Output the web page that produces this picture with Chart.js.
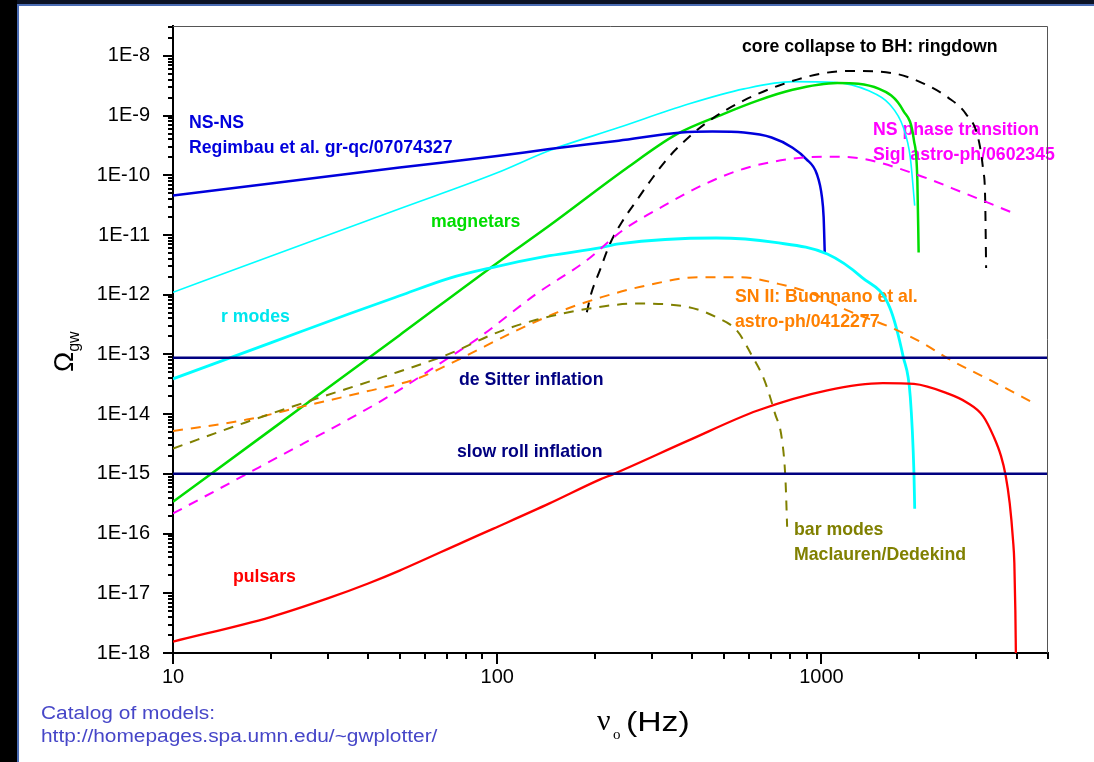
<!DOCTYPE html>
<html>
<head>
<meta charset="utf-8">
<script src="https://cdn.jsdelivr.net/npm/chart.js@4.4.1/dist/chart.umd.min.js"></script>
<style>
html,body{margin:0;padding:0;background:#fff;width:1094px;height:762px;overflow:hidden;}
#wrap{position:relative;width:1094px;height:762px;background:#fff;}
#c{position:absolute;left:0;top:0;}
.lstrip{position:absolute;left:0;top:0;width:17px;height:762px;background:#000;}
.lline{position:absolute;left:17px;top:4px;width:2px;height:758px;background:#4a6cb4;}
.tstrip{position:absolute;left:0;top:0;width:1094px;height:4px;background:#0b1224;}
.tline{position:absolute;left:17px;top:4px;width:1077px;height:2px;background:#4a6cb4;}
</style>
</head>
<body>
<div id="wrap">
<canvas id="c" width="1094" height="762"></canvas>
<div class="tstrip"></div><div class="lstrip"></div><div class="lline"></div><div class="tline"></div>
</div>
<script>
// ---- axis ticks ----
const xTickLabels = [10, 100, 1000];
const xTickValues = [10,20,30,40,50,60,70,80,90,100,200,300,400,500,600,700,800,900,1000,2000,3000,4000,5000];
const yDecades = [-18,-17,-16,-15,-14,-13,-12,-11,-10,-9,-8];
const xMin = 10, xMax = 5000, yMin = 1e-18, yMax = 3.162e-8;

// ---- series (frequency in Hz, Omega_gw) ----
const nsnsFreq  = [10, 20, 50, 100, 145, 237, 370, 461, 577, 702, 815, 898, 968, 1004, 1016, 1024];
const nsnsOmega = [4.6e-11, 7.3e-11, 1.35e-10, 2.1e-10, 2.75e-10, 3.8e-10, 5.2e-10, 5.4e-10, 5.2e-10, 4.3e-10, 2.9e-10, 1.87e-10, 1.05e-10, 4.3e-11, 2e-11, 5.1e-12];

const cyanUpperFreq  = [10, 20, 50, 100, 145, 237, 389, 577, 815, 1094, 1400, 1623, 1790, 1880, 1940];
const cyanUpperOmega = [1.1e-12, 4.4e-12, 2.75e-11, 1.1e-10, 2.6e-10, 6.3e-10, 1.56e-9, 2.8e-9, 3.7e-9, 3.6e-9, 2.6e-9, 1.55e-9, 6.3e-10, 2e-10, 3.1e-11];

const magnetarFreq  = [10, 20, 50, 100, 145, 250, 356, 498, 636, 815, 1120, 1507, 1790, 1930, 1977, 1995];
const magnetarOmega = [3.4e-16, 5.4e-15, 2.1e-13, 3.4e-12, 1.44e-11, 1.3e-10, 4.8e-10, 1.06e-9, 1.78e-9, 2.7e-9, 3.5e-9, 2.8e-9, 1.2e-9, 3.8e-10, 8.1e-11, 5.1e-12];

const ringdownFreq  = [189, 195, 207, 223, 244, 269, 297, 335, 389, 461, 575, 737, 990, 1237, 1702, 2075, 2460, 2790, 3042, 3156, 3199, 3222];
const ringdownOmega = [5.1e-13, 1.05e-12, 2.5e-12, 7.2e-12, 1.74e-11, 3.76e-11, 8.1e-11, 1.9e-10, 4.3e-10, 8.9e-10, 1.78e-9, 3.16e-9, 5e-9, 5.6e-9, 5e-9, 3.4e-9, 2e-9, 1.07e-9, 4.3e-10, 1.2e-10, 4.3e-11, 2.8e-12];

const phaseFreq  = [10, 13.6, 18.5, 25.2, 35.1, 47.8, 66.5, 88.3, 132, 188, 243, 327, 439, 577, 815, 1043, 1333, 1929, 2791, 3934];
const phaseOmega = [2.17e-16, 5.3e-16, 1.3e-15, 3.2e-15, 8.4e-15, 2.2e-14, 7e-14, 1.95e-13, 1.03e-12, 3.7e-12, 1.18e-11, 3.1e-11, 7.2e-11, 1.29e-10, 1.9e-10, 2.05e-10, 1.9e-10, 1.07e-10, 4.9e-11, 2.3e-11];

const snFreq  = [10, 16.9, 25.2, 39.5, 56.4, 74.9, 114.5, 154, 210, 289, 418, 563, 737, 944, 1207, 1620, 2075, 2460, 3320, 4560];
const snOmega = [5.2e-15, 8.1e-15, 1.35e-14, 2.4e-14, 3.9e-14, 7.9e-14, 2.5e-13, 5.1e-13, 9.1e-13, 1.43e-12, 1.96e-12, 1.96e-12, 1.52e-12, 1.03e-12, 5.4e-13, 2.9e-13, 1.5e-13, 8.5e-14, 3.7e-14, 1.5e-14];

const barFreq  = [10, 16.9, 27.7, 44.5, 71.4, 99.4, 132, 190, 269, 389, 474, 549, 606, 667, 719, 756, 775, 784];
const barOmega = [2.65e-15, 7.4e-15, 1.82e-14, 4.2e-14, 1.03e-13, 2.3e-13, 3.8e-13, 5.8e-13, 7.1e-13, 6.2e-13, 4.2e-13, 2.5e-13, 1.03e-13, 3.7e-14, 1.03e-14, 3.7e-15, 7.8e-16, 1.3e-16];

const rmodeFreq  = [10, 20, 35, 50, 71.4, 94.9, 145, 207, 237, 474, 719, 1043, 1333, 1623, 1789, 1880, 1930, 1940];
const rmodeOmega = [3.9e-14, 1.56e-13, 4.8e-13, 9.6e-13, 1.9e-12, 2.8e-12, 4.5e-12, 6.1e-12, 7.1e-12, 8.9e-12, 7.5e-12, 4.8e-12, 1.95e-12, 6.2e-13, 9e-14, 1.95e-14, 1e-15, 2.6e-16];

const pulsarFreq  = [10, 20, 30, 40, 50, 78.5, 97, 145, 207, 229, 388, 636, 1043, 1547, 1929, 2460, 2800, 3156, 3400, 3580, 3700, 3810, 3900, 3937, 3965, 3980];
const pulsarOmega = [1.55e-18, 4e-18, 8.2e-18, 1.46e-17, 2.4e-17, 7.2e-17, 1.2e-16, 3.2e-16, 8e-16, 1e-15, 3.6e-15, 1.15e-14, 2.5e-14, 3.3e-14, 3.2e-14, 2.2e-14, 1.58e-14, 9.2e-15, 4.2e-15, 2.0e-15, 9.5e-16, 3.2e-16, 7.8e-17, 3.2e-17, 5.2e-18, 1e-18];

const inflationFreq = [10, 5000];
const deSitterOmega = [8.8e-14, 8.8e-14];
const slowRollOmega = [1e-15, 1e-15];

// ---- text labels ----
const curveLabels = [
  {text:'core collapse to BH: ringdown', x:742, y:47, color:'#000000'},
  {text:'NS-NS', x:189, y:123, color:'#0000dc'},
  {text:'Regimbau et al. gr-qc/07074327', x:189, y:148, color:'#0000dc'},
  {text:'NS phase transition', x:873, y:130, color:'#ff00ff'},
  {text:'Sigl astro-ph/0602345', x:873, y:155, color:'#ff00ff'},
  {text:'magnetars', x:431, y:222, color:'#00dd00'},
  {text:'r modes', x:221, y:317, color:'#00e6ee'},
  {text:'SN II: Buonnano et al.', x:735, y:297, color:'#ff8000'},
  {text:'astro-ph/0412277', x:735, y:322, color:'#ff8000'},
  {text:'de Sitter inflation', x:459, y:380, color:'#000080'},
  {text:'slow roll inflation', x:457, y:452, color:'#000080'},
  {text:'bar modes', x:794, y:530, color:'#808000'},
  {text:'Maclauren/Dedekind', x:794, y:555, color:'#808000'},
  {text:'pulsars', x:233, y:577, color:'#ff0000'}
];

function pts(fs, os){ return fs.map((f,i)=>({x:f, y:os[i]})); }
function isDecade(v){ const l=Math.log10(v); return Math.abs(l-Math.round(l))<1e-6; }

function ds(fs, os, color, width, dash){
  return {data: pts(fs, os), borderColor: color, borderWidth: width, borderDash: dash || [],
          pointRadius: 0, fill: false, cubicInterpolationMode: 'monotone', borderCapStyle:'butt'};
}

const yTickValues = [];
yDecades.forEach(e => { for (let m=1; m<=9; m++){ const v = m*Math.pow(10,e); if (v <= yMax*1.0001) yTickValues.push(v); } });

const FONT = '"Liberation Sans", Arial, Helvetica, sans-serif';

const decoPlugin = {
  id: 'deco',
  beforeDatasetsDraw(chart){
    const ctx = chart.ctx;
    ctx.save();
    ctx.textBaseline = 'middle'; ctx.textAlign = 'left';
    ctx.font = 'bold 17.7px ' + FONT;
    curveLabels.forEach(l => { ctx.fillStyle = l.color; ctx.fillText(l.text, l.x, l.y); });
    ctx.restore();
  },
  afterDraw(chart){
    const ctx = chart.ctx, a = chart.chartArea;
    const xs = chart.scales.x, ys = chart.scales.y;
    ctx.save();
    // frame top/right
    ctx.strokeStyle = '#555'; ctx.lineWidth = 1;
    ctx.beginPath(); ctx.moveTo(a.left, a.top+0.5); ctx.lineTo(a.right-0.5, a.top+0.5); ctx.lineTo(a.right-0.5, a.bottom); ctx.stroke();
    // tick marks
    ctx.strokeStyle = '#000'; ctx.lineWidth = 2;
    xs.ticks.forEach(t => {
      const px = Math.round(xs.getPixelForValue(t.value));
      const len = isDecade(t.value) ? 11 : 6;
      ctx.beginPath(); ctx.moveTo(px, a.bottom); ctx.lineTo(px, a.bottom+len); ctx.stroke();
    });
    ys.ticks.forEach(t => {
      const py = Math.round(ys.getPixelForValue(t.value));
      const len = isDecade(t.value) ? 10 : 5;
      ctx.beginPath(); ctx.moveTo(a.left, py); ctx.lineTo(a.left-len, py); ctx.stroke();
    });
    // y title
    ctx.fillStyle = '#000';
    ctx.translate(73, 372); ctx.rotate(-Math.PI/2);
    ctx.textAlign = 'left'; ctx.textBaseline = 'alphabetic';
    ctx.font = '27px ' + FONT; ctx.fillText('\u03A9', 0, 0);
    const w = ctx.measureText('\u03A9').width;
    ctx.font = '16px ' + FONT; ctx.fillText('gw', w, 6);
    ctx.setTransform(1,0,0,1,0,0);
    // x title
    ctx.font = '30px "Liberation Serif", "Times New Roman", serif';
    ctx.fillText('\u03BD', 597, 730);
    ctx.font = '15px "Liberation Serif", "Times New Roman", serif';
    ctx.fillText('o', 613, 739);
    ctx.save(); ctx.translate(626, 731); ctx.scale(1.25, 1);
    ctx.font = '27px ' + FONT; ctx.fillText('(Hz)', 0, 0);
    ctx.restore();
    // catalog note
    ctx.fillStyle = '#4646c8';
    ctx.font = '18px ' + FONT;
    ctx.save(); ctx.translate(41, 719); ctx.scale(1.16, 1); ctx.fillText('Catalog of models:', 0, 0); ctx.restore();
    ctx.save(); ctx.translate(41, 742); ctx.scale(1.16, 1); ctx.fillText('http://homepages.spa.umn.edu/~gwplotter/', 0, 0); ctx.restore();
    ctx.restore();
  }
};

new Chart(document.getElementById('c'), {
  type: 'line',
  data: {
    datasets: [
      ds(inflationFreq, deSitterOmega, '#000080', 2.5),
      ds(inflationFreq, slowRollOmega, '#000080', 2.5),
      ds(pulsarFreq, pulsarOmega, '#ff0000', 2.3),
      ds(barFreq, barOmega, '#808000', 2, [10, 8]),
      ds(snFreq, snOmega, '#ff8000', 2, [10, 8]),
      ds(phaseFreq, phaseOmega, '#ff00ff', 2, [10, 8]),
      ds(rmodeFreq, rmodeOmega, '#00ffff', 2.8),
      ds(nsnsFreq, nsnsOmega, '#0000dc', 2.5),
      ds(ringdownFreq, ringdownOmega, '#000000', 2, [10, 8]),
      ds(magnetarFreq, magnetarOmega, '#00dd00', 2.5),
      ds(cyanUpperFreq, cyanUpperOmega, '#00ffff', 1.6)
    ]
  },
  options: {
    responsive: false, animation: false, devicePixelRatio: 1,
    layout: {padding: {left: 0, top: 26, right: 46, bottom: 0}},
    plugins: {legend: {display: false}, tooltip: {enabled: false}},
    scales: {
      x: {
        type: 'logarithmic', min: xMin, max: xMax, position: 'bottom',
        afterBuildTicks: s => { s.ticks = xTickValues.map(v => ({value: v})); },
        afterFit: s => { s.height = 109; s.paddingLeft = 0; s.paddingRight = 0; },
        grid: {display: false, drawTicks: false, tickLength: 0},
        border: {display: true, color: '#000', width: 2},
        ticks: {autoSkip: false, maxRotation: 0, padding: 12, color: '#000',
          font: {family: FONT, size: 20},
          callback: v => xTickLabels.some(t => Math.abs(t - v) < 1e-6) ? String(v) : ''}
      },
      y: {
        type: 'logarithmic', min: yMin, max: yMax,
        afterBuildTicks: s => { s.ticks = yTickValues.map(v => ({value: v})); },
        afterFit: s => { s.width = 173; s.paddingTop = 0; s.paddingBottom = 0; },
        grid: {display: false, drawTicks: false, tickLength: 0},
        border: {display: true, color: '#000', width: 2},
        ticks: {autoSkip: false, padding: 23, color: '#000',
          font: {family: FONT, size: 20},
          callback: v => isDecade(v) ? ('1E' + Math.round(Math.log10(v))) : ''}
      }
    }
  },
  plugins: [decoPlugin]
});
</script>
</body>
</html>
